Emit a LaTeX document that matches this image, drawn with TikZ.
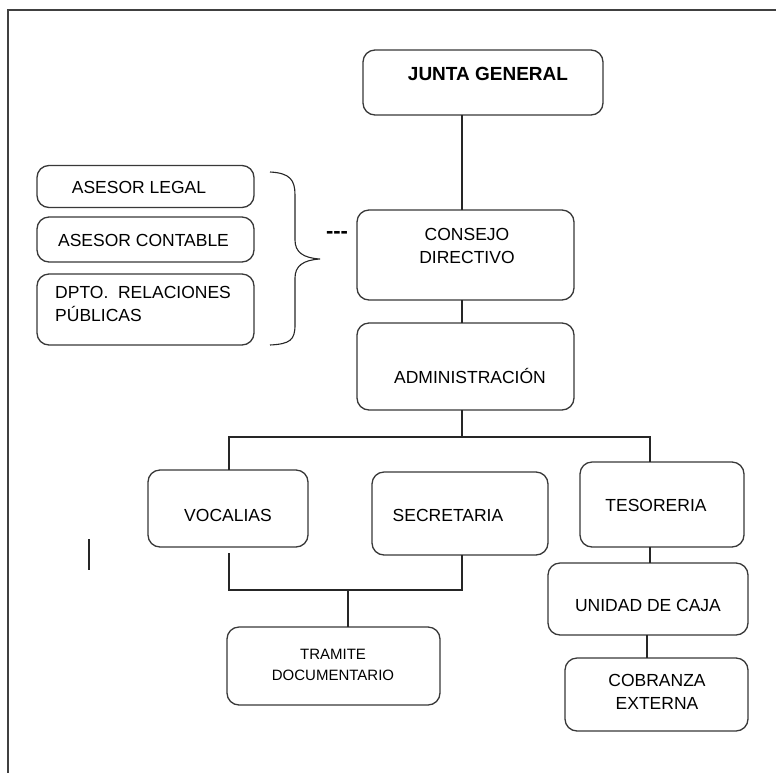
\documentclass[tikz,border=0pt]{standalone}
\usepackage{fontspec}
\setmainfont{Liberation Sans}
\begin{document}
\begin{tikzpicture}[x=1pt,y=-1pt,
  box/.style={draw=black!78, line width=1.3pt, rounded corners=12pt, inner sep=0pt, outer sep=0pt},
  txt/.style={font=\fontsize{17.5}{23}\selectfont, inner sep=0pt, text=black, align=center},
  small/.style={font=\fontsize{15}{21}\selectfont, inner sep=0pt, text=black, align=center},
  conn/.style={draw=black!85, line width=1.2pt},
  frame/.style={draw=black!75, line width=1.8pt}]
\useasboundingbox (0,0) rectangle (776,772);
% frame
\coordinate (fTL) at (8,10);
\coordinate (fTR) at (777,10);
\coordinate (fBL) at (8,773);
\draw[frame] (fTR) -- (fTL) -- (fBL);

% boxes
\node[box, minimum width=240pt, minimum height=65pt] (jg) at (483,82.5) {};
\node[box, minimum width=217pt, minimum height=90pt] (cd) at (465.5,255) {};
\node[box, minimum width=217pt, minimum height=87pt] (adm) at (465.5,366.5) {};
\node[box, minimum width=160pt, minimum height=77pt] (voc) at (228,508.5) {};
\node[box, minimum width=176pt, minimum height=83pt] (sec) at (460,513.5) {};
\node[box, minimum width=164pt, minimum height=85pt] (tes) at (662,504.5) {};
\node[box, minimum width=200pt, minimum height=72pt] (udc) at (648,599) {};
\node[box, minimum width=183pt, minimum height=73pt] (cob) at (656.5,694.5) {};
\node[box, minimum width=213pt, minimum height=78pt] (tra) at (333.5,666) {};
\node[box, minimum width=217pt, minimum height=42pt] (al) at (145.5,186.5) {};
\node[box, minimum width=217pt, minimum height=45pt] (ac) at (145.5,239.5) {};
\node[box, minimum width=217pt, minimum height=71pt] (dp) at (145.5,309.5) {};

% texts
\node[txt, font=\fontsize{19}{23}\selectfont\bfseries] (jgt) at (488,74) {JUNTA GENERAL};
\node[txt] (cdt) at (467,246) {CONSEJO\\DIRECTIVO};
\node[txt] (admt) at (470,376) {ADMINISTRACIÓN};
\node[txt] (voct) at (228,515) {VOCALIAS};
\node[txt] (sect) at (448,515) {SECRETARIA};
\node[txt] (test) at (656,505) {TESORERIA};
\node[txt] (udct) at (648,605) {UNIDAD DE CAJA};
\node[txt] (cobt) at (657,692) {COBRANZA\\EXTERNA};
\node[small] (trat) at (333,665) {TRAMITE\\DOCUMENTARIO};
\node[txt] (alt) at (139,187) {ASESOR LEGAL};
\node[txt] (act) at (143.5,240) {ASESOR CONTABLE};
\node[txt, align=left, anchor=west] (dpt) at (55,303.5) {DPTO.\ \ RELACIONES\\PÚBLICAS};
\node[txt, font=\fontsize{22}{23}\selectfont\bfseries] (dash) at (337,235) {-{}-{}-};

% brace
\coordinate (brT) at (270,172);
\coordinate (brTip) at (320,259);
\coordinate (brB) at (270,345);
\draw[conn, line width=1.1pt] (brT) .. controls (290,173) and (295,180) .. (295,195)
  -- (295,240) .. controls (295,252) and (303,258) .. (brTip)
  .. controls (303,260) and (295,266) .. (295,278)
  -- (295,325) .. controls (295,340) and (290,344) .. (brB);

% connectors
\coordinate (busA) at (462,437);
\coordinate (busL) at (229,437);
\coordinate (busR) at (650,437);
\coordinate (cobx) at (647,640);
\draw[conn] (jg.south -| busA) -- (cd.north -| busA);
\draw[conn] (cd.south -| busA) -- (adm.north -| busA);
\draw[conn] (adm.south -| busA) -- (busA);
\draw[conn] (voc.north -| busL) -- (busL) -- (busR) -- (tes.north -| busR);

\coordinate (vEnd) at (229,553);
\coordinate (jL) at (229,590);
\coordinate (jR) at (462,590);
\coordinate (jM) at (348,590);
\draw[conn] (vEnd) -- (jL) -- (jR) -- (sec.south -| jR);
\draw[conn] (jM) -- (tra.north -| jM);
\draw[conn] (tes.south -| busR) -- (udc.north -| busR);
\draw[conn] (udc.south -| cobx) -- (cob.north -| cobx);

% stray mark
\coordinate (mT) at (89,539);
\coordinate (mB) at (89,570);
\draw[conn, line width=1.6pt] (mT) -- (mB);
\end{tikzpicture}
\end{document}
